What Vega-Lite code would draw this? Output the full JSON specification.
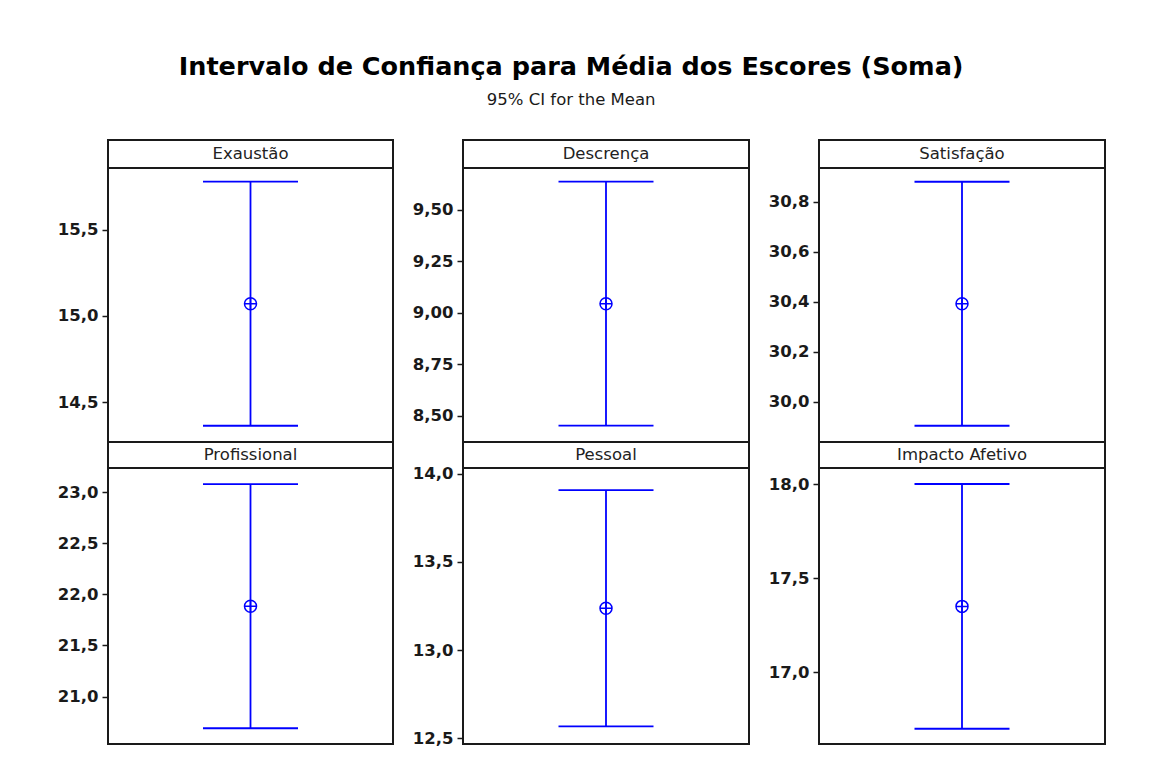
{
  "$schema": "https://vega.github.io/schema/vega-lite/v6.json",
  "background": "white",
  "padding": {"left": 56, "top": 55, "right": 5, "bottom": 5},
  "title": {
    "text": "Intervalo de Confiança para Média dos Escores (Soma)",
    "subtitle": "95% CI for the Mean",
    "font": "DejaVu Sans",
    "fontSize": 25.5,
    "fontWeight": "bold",
    "color": "#000000",
    "subtitleFont": "DejaVu Sans",
    "subtitleFontSize": 16.5,
    "subtitleColor": "#1a1a1a",
    "subtitlePadding": 11,
    "anchor": "middle",
    "dx": -10,
    "offset": 31
  },
  "config": {
    "view": {"stroke": "#1a1a1a", "strokeWidth": 2},
    "axis": {
      "domain": false,
      "grid": false,
      "ticks": true,
      "tickColor": "#1a1a1a",
      "tickWidth": 1.5,
      "tickSize": 6,
      "labelFont": "DejaVu Sans",
      "labelFontWeight": "bold",
      "labelFontSize": 16.5,
      "labelColor": "#1a1a1a",
      "labelPadding": 4,
      "labelOverlap": false,
      "title": null
    }
  },
  "datasets": {
    "ci": [
      {"var": "Exaustão", "lower": 14.364, "mean": 15.071, "upper": 15.778},
      {"var": "Descrença", "lower": 8.451, "mean": 9.043, "upper": 9.636},
      {"var": "Satisfação", "lower": 29.904, "mean": 30.392, "upper": 30.88},
      {"var": "Profissional", "lower": 20.691, "mean": 21.884, "upper": 23.078},
      {"var": "Pessoal", "lower": 12.568, "mean": 13.237, "upper": 13.907},
      {"var": "Impacto Afetivo", "lower": 16.7, "mean": 17.35, "upper": 18.0}
    ]
  },
  "concat": [
    {"width": 285, "height": 28, "data": {"name": "ci"}, "transform": [{"filter": "datum.var === 'Exaustão'"}],
     "mark": {"type": "text", "font": "DejaVu Sans", "fontSize": 16.5, "color": "#222222"},
     "encoding": {"x": {"field": "var", "type": "nominal", "axis": null}, "text": {"field": "var"}}},
    {"width": 286, "height": 28, "data": {"name": "ci"}, "transform": [{"filter": "datum.var === 'Descrença'"}],
     "mark": {"type": "text", "font": "DejaVu Sans", "fontSize": 16.5, "color": "#222222"},
     "encoding": {"x": {"field": "var", "type": "nominal", "axis": null}, "text": {"field": "var"}}},
    {"width": 286, "height": 28, "data": {"name": "ci"}, "transform": [{"filter": "datum.var === 'Satisfação'"}],
     "mark": {"type": "text", "font": "DejaVu Sans", "fontSize": 16.5, "color": "#222222"},
     "encoding": {"x": {"field": "var", "type": "nominal", "axis": null}, "text": {"field": "var"}}},

    {"width": 285, "height": 274, "data": {"name": "ci"}, "transform": [{"filter": "datum.var === 'Exaustão'"}],
     "encoding": {"x": {"field": "var", "type": "nominal", "axis": null}},
     "layer": [
       {"mark": {"type": "rule", "color": "#0000ff", "strokeWidth": 1.8},
        "encoding": {"y": {"field": "lower", "type": "quantitative", "scale": {"domain": [14.27, 15.857], "nice": false, "zero": false},
                           "axis": {"values": [14.5, 15.0, 15.5], "labelExpr": "replace(format(datum.value, '.1f'), '.', ',')"}},
                     "y2": {"field": "upper"}}},
       {"mark": {"type": "tick", "color": "#0000ff", "thickness": 1.8, "size": 95, "opacity": 1},
        "encoding": {"y": {"field": "lower", "type": "quantitative"}}},
       {"mark": {"type": "tick", "color": "#0000ff", "thickness": 1.8, "size": 95, "opacity": 1},
        "encoding": {"y": {"field": "upper", "type": "quantitative"}}},
       {"mark": {"type": "point", "shape": "M-1,0A1,1,0,1,1,1,0A1,1,0,1,1,-1,0ZM-1,0L1,0M0,-1L0,1", "filled": false, "color": "#0000ff", "strokeWidth": 1.5, "size": 144, "opacity": 1},
        "encoding": {"y": {"field": "mean", "type": "quantitative"}}}
     ]},
    {"width": 286, "height": 274, "data": {"name": "ci"}, "transform": [{"filter": "datum.var === 'Descrença'"}],
     "encoding": {"x": {"field": "var", "type": "nominal", "axis": null}},
     "layer": [
       {"mark": {"type": "rule", "color": "#0000ff", "strokeWidth": 1.8},
        "encoding": {"y": {"field": "lower", "type": "quantitative", "scale": {"domain": [8.372, 9.702], "nice": false, "zero": false},
                           "axis": {"values": [8.5, 8.75, 9.0, 9.25, 9.5], "labelExpr": "replace(format(datum.value, '.2f'), '.', ',')"}},
                     "y2": {"field": "upper"}}},
       {"mark": {"type": "tick", "color": "#0000ff", "thickness": 1.8, "size": 95, "opacity": 1},
        "encoding": {"y": {"field": "lower", "type": "quantitative"}}},
       {"mark": {"type": "tick", "color": "#0000ff", "thickness": 1.8, "size": 95, "opacity": 1},
        "encoding": {"y": {"field": "upper", "type": "quantitative"}}},
       {"mark": {"type": "point", "shape": "M-1,0A1,1,0,1,1,1,0A1,1,0,1,1,-1,0ZM-1,0L1,0M0,-1L0,1", "filled": false, "color": "#0000ff", "strokeWidth": 1.5, "size": 144, "opacity": 1},
        "encoding": {"y": {"field": "mean", "type": "quantitative"}}}
     ]},
    {"width": 286, "height": 274, "data": {"name": "ci"}, "transform": [{"filter": "datum.var === 'Satisfação'"}],
     "encoding": {"x": {"field": "var", "type": "nominal", "axis": null}},
     "layer": [
       {"mark": {"type": "rule", "color": "#0000ff", "strokeWidth": 1.8},
        "encoding": {"y": {"field": "lower", "type": "quantitative", "scale": {"domain": [29.839, 30.935], "nice": false, "zero": false},
                           "axis": {"values": [30.0, 30.2, 30.4, 30.6, 30.8], "labelExpr": "replace(format(datum.value, '.1f'), '.', ',')"}},
                     "y2": {"field": "upper"}}},
       {"mark": {"type": "tick", "color": "#0000ff", "thickness": 1.8, "size": 95, "opacity": 1},
        "encoding": {"y": {"field": "lower", "type": "quantitative"}}},
       {"mark": {"type": "tick", "color": "#0000ff", "thickness": 1.8, "size": 95, "opacity": 1},
        "encoding": {"y": {"field": "upper", "type": "quantitative"}}},
       {"mark": {"type": "point", "shape": "M-1,0A1,1,0,1,1,1,0A1,1,0,1,1,-1,0ZM-1,0L1,0M0,-1L0,1", "filled": false, "color": "#0000ff", "strokeWidth": 1.5, "size": 144, "opacity": 1},
        "encoding": {"y": {"field": "mean", "type": "quantitative"}}}
     ]},

    {"width": 285, "height": 26, "data": {"name": "ci"}, "transform": [{"filter": "datum.var === 'Profissional'"}],
     "mark": {"type": "text", "font": "DejaVu Sans", "fontSize": 16.5, "color": "#222222"},
     "encoding": {"x": {"field": "var", "type": "nominal", "axis": null}, "text": {"field": "var"}}},
    {"width": 286, "height": 26, "data": {"name": "ci"}, "transform": [{"filter": "datum.var === 'Pessoal'"}],
     "mark": {"type": "text", "font": "DejaVu Sans", "fontSize": 16.5, "color": "#222222"},
     "encoding": {"x": {"field": "var", "type": "nominal", "axis": null}, "text": {"field": "var"}}},
    {"width": 286, "height": 26, "data": {"name": "ci"}, "transform": [{"filter": "datum.var === 'Impacto Afetivo'"}],
     "mark": {"type": "text", "font": "DejaVu Sans", "fontSize": 16.5, "color": "#222222"},
     "encoding": {"x": {"field": "var", "type": "nominal", "axis": null}, "text": {"field": "var"}}},

    {"width": 285, "height": 276, "data": {"name": "ci"}, "transform": [{"filter": "datum.var === 'Profissional'"}],
     "encoding": {"x": {"field": "var", "type": "nominal", "axis": null}},
     "layer": [
       {"mark": {"type": "rule", "color": "#0000ff", "strokeWidth": 1.8},
        "encoding": {"y": {"field": "lower", "type": "quantitative", "scale": {"domain": [20.537, 23.235], "nice": false, "zero": false},
                           "axis": {"values": [21.0, 21.5, 22.0, 22.5, 23.0], "labelExpr": "replace(format(datum.value, '.1f'), '.', ',')"}},
                     "y2": {"field": "upper"}}},
       {"mark": {"type": "tick", "color": "#0000ff", "thickness": 1.8, "size": 95, "opacity": 1},
        "encoding": {"y": {"field": "lower", "type": "quantitative"}}},
       {"mark": {"type": "tick", "color": "#0000ff", "thickness": 1.8, "size": 95, "opacity": 1},
        "encoding": {"y": {"field": "upper", "type": "quantitative"}}},
       {"mark": {"type": "point", "shape": "M-1,0A1,1,0,1,1,1,0A1,1,0,1,1,-1,0ZM-1,0L1,0M0,-1L0,1", "filled": false, "color": "#0000ff", "strokeWidth": 1.5, "size": 144, "opacity": 1},
        "encoding": {"y": {"field": "mean", "type": "quantitative"}}}
     ]},
    {"width": 286, "height": 276, "data": {"name": "ci"}, "transform": [{"filter": "datum.var === 'Pessoal'"}],
     "encoding": {"x": {"field": "var", "type": "nominal", "axis": null}},
     "layer": [
       {"mark": {"type": "rule", "color": "#0000ff", "strokeWidth": 1.8},
        "encoding": {"y": {"field": "lower", "type": "quantitative", "scale": {"domain": [12.468, 14.032], "nice": false, "zero": false},
                           "axis": {"values": [12.5, 13.0, 13.5, 14.0], "labelExpr": "replace(format(datum.value, '.1f'), '.', ',')"}},
                     "y2": {"field": "upper"}}},
       {"mark": {"type": "tick", "color": "#0000ff", "thickness": 1.8, "size": 95, "opacity": 1},
        "encoding": {"y": {"field": "lower", "type": "quantitative"}}},
       {"mark": {"type": "tick", "color": "#0000ff", "thickness": 1.8, "size": 95, "opacity": 1},
        "encoding": {"y": {"field": "upper", "type": "quantitative"}}},
       {"mark": {"type": "point", "shape": "M-1,0A1,1,0,1,1,1,0A1,1,0,1,1,-1,0ZM-1,0L1,0M0,-1L0,1", "filled": false, "color": "#0000ff", "strokeWidth": 1.5, "size": 144, "opacity": 1},
        "encoding": {"y": {"field": "mean", "type": "quantitative"}}}
     ]},
    {"width": 286, "height": 276, "data": {"name": "ci"}, "transform": [{"filter": "datum.var === 'Impacto Afetivo'"}],
     "encoding": {"x": {"field": "var", "type": "nominal", "axis": null}},
     "layer": [
       {"mark": {"type": "rule", "color": "#0000ff", "strokeWidth": 1.8},
        "encoding": {"y": {"field": "lower", "type": "quantitative", "scale": {"domain": [16.619, 18.085], "nice": false, "zero": false},
                           "axis": {"values": [17.0, 17.5, 18.0], "labelExpr": "replace(format(datum.value, '.1f'), '.', ',')"}},
                     "y2": {"field": "upper"}}},
       {"mark": {"type": "tick", "color": "#0000ff", "thickness": 1.8, "size": 95, "opacity": 1},
        "encoding": {"y": {"field": "lower", "type": "quantitative"}}},
       {"mark": {"type": "tick", "color": "#0000ff", "thickness": 1.8, "size": 95, "opacity": 1},
        "encoding": {"y": {"field": "upper", "type": "quantitative"}}},
       {"mark": {"type": "point", "shape": "M-1,0A1,1,0,1,1,1,0A1,1,0,1,1,-1,0ZM-1,0L1,0M0,-1L0,1", "filled": false, "color": "#0000ff", "strokeWidth": 1.5, "size": 144, "opacity": 1},
        "encoding": {"y": {"field": "mean", "type": "quantitative"}}}
     ]}
  ],
  "columns": 3,
  "align": "each",
  "bounds": "flush",
  "spacing": {"row": 0, "column": 70},
  "resolve": {"scale": {"x": "independent", "y": "independent"}}
}
